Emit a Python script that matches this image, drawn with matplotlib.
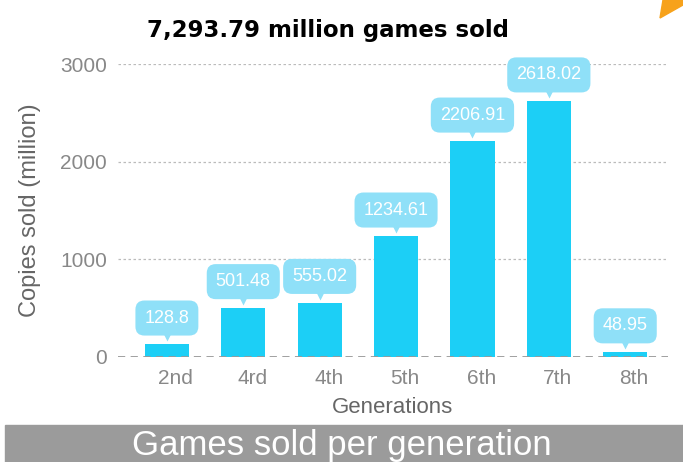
import matplotlib
matplotlib.use("Agg")
import matplotlib.pyplot as plt
import matplotlib.transforms as mtransforms
from matplotlib.patches import Rectangle, Polygon

# Games sold per console generation (million copies)
generations = ["2nd", "4rd", "4th", "5th", "6th", "7th", "8th"]
copies_sold = [128.8, 501.48, 555.02, 1234.61, 2206.91, 2618.02, 48.95]
total_sold = "7,293.79"

bar_color = "#1ccff6"
tip_color = "#8fe0f8"
font = "Liberation Sans"

fig = plt.figure(figsize=(6.83, 4.62), dpi=100)
ax = fig.add_axes([118 / 683, 1 - 357 / 462, 550 / 683, 293 / 462])

x = range(len(generations))
ax.bar(x, copies_sold, width=0.58, color=bar_color, zorder=3)

ax.set_xlim(-0.64, 6.56)
ax.set_ylim(0, 3000)

# grid: dotted lines plus a dashed baseline
for y in [1000, 2000, 3000]:
    ax.axhline(y, color="#bbbbbb", lw=0.9, ls=(0, (2, 2)), zorder=1)
ax.axhline(0, color="#999999", lw=1.3, ls=(0, (4, 3)), zorder=4)

for s in ax.spines.values():
    s.set_visible(False)

ax.set_yticks([0, 1000, 2000, 3000])
ax.set_xticks(list(x))
ax.set_xticklabels(generations)
ax.tick_params(axis="both", length=0, labelsize=15, labelcolor="#888888")
ax.tick_params(axis="x", pad=9)
ax.tick_params(axis="y", pad=8)
for lab in ax.get_xticklabels() + ax.get_yticklabels():
    lab.set_family(font)
shift = mtransforms.ScaledTranslation(9 / 100, 0, fig.dpi_scale_trans)
for lab in ax.get_xticklabels():
    lab.set_transform(lab.get_transform() + shift)

ax.set_xlabel("Generations", fontsize=16, color="#666666", family=font, labelpad=6)
ax.set_ylabel("Copies sold (million)", fontsize=17, color="#666666", family=font, labelpad=14)

# value callouts above each bar
tip_tr = mtransforms.offset_copy(ax.transData, fig=fig, x=0, y=6.5, units="points")
for i, v in zip(x, copies_sold):
    ax.plot(i, v, marker="v", ms=8, color=tip_color, mec="none",
            transform=tip_tr, clip_on=False, zorder=5)
    ax.annotate(f"{v:g}", (i, v), xytext=(0, 19), textcoords="offset points",
                ha="center", va="center", fontsize=13, color="white", family=font,
                bbox=dict(boxstyle="round,pad=0.5,rounding_size=0.5", fc=tip_color, ec="none"),
                zorder=6, annotation_clip=False)

fig.text(328 / 683, 1 - 31 / 462, f"{total_sold} million games sold", ha="center", va="center",
         fontsize=16.5, fontweight="bold", family="DejaVu Sans")

# footer banner
fig.patches.append(Rectangle((5 / 683, 0), 1, 37 / 462, transform=fig.transFigure,
                             color="#9b9b9b", zorder=0))
fig.text(342 / 683, 16 / 462, "Games sold per generation", ha="center", va="center",
         fontsize=25, color="white", family=font)

# corner accent
fig.patches.append(Polygon([(663 / 683, 1), (1, 1), (1, 1 - 5 / 462), (660 / 683, 1 - 18 / 462)],
                           closed=True, transform=fig.transFigure, color="#f7a21b"))

fig.savefig("out.png", dpi=100)
